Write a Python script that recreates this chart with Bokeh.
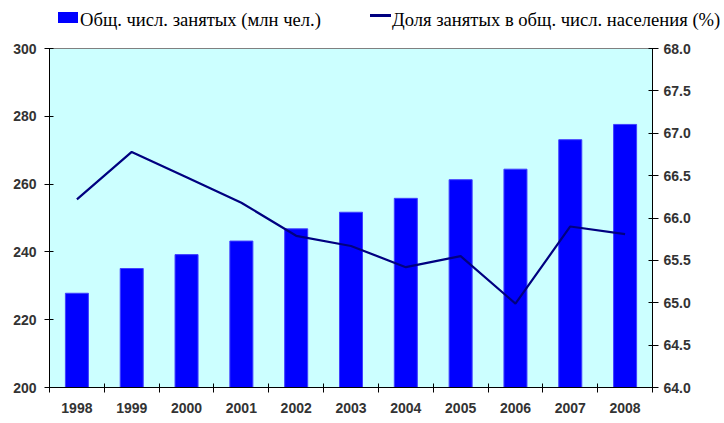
from bokeh.plotting import figure
from bokeh.layouts import column
from bokeh.models import (Range1d, LinearAxis, FixedTicker, Div,
                          PrintfTickFormatter, ColumnDataSource)
from bokeh.embed import file_html
from bokeh.resources import INLINE

years = ["1998", "1999", "2000", "2001", "2002", "2003", "2004", "2005", "2006", "2007", "2008"]
employed = [227.8, 235.1, 239.2, 243.2, 246.8, 251.7, 255.8, 261.3, 264.4, 273.1, 277.6]
share = [66.22, 66.78, 66.48, 66.18, 65.79, 65.67, 65.42, 65.55, 64.99, 65.90, 65.81]
left_ticks = [200, 220, 240, 260, 280, 300]
right_ticks = [64.0, 64.5, 65.0, 65.5, 66.0, 66.5, 67.0, 67.5, 68.0]
series_names = ["Общ. числ. занятых (млн чел.)", "Доля занятых в общ. числ. населения (%)"]

BAR_COLOR = "#0000FF"
LINE_COLOR = "#000080"

n = len(years)
xs = [i + 0.5 for i in range(n)]
src = ColumnDataSource(dict(x=xs, employed=employed, share=share, year=years))

# ---------- legend strip (HTML) ----------
legend_html = (
    '<div style="position:relative;width:716px;height:40px;'
    "font-family:'Liberation Serif';font-size:18.6px;line-height:21px;color:#000;\">"
    f'<span style="position:absolute;left:58px;top:12px;width:20px;height:11px;background:{BAR_COLOR};"></span>'
    f'<span style="position:absolute;left:80px;top:9px;white-space:nowrap;">{series_names[0]}</span>'
    f'<span style="position:absolute;left:370px;top:14px;width:21px;height:3px;background:{LINE_COLOR};"></span>'
    f'<span style="position:absolute;left:392px;top:9px;white-space:nowrap;">{series_names[1]}</span>'
    '</div>'
)
lg = Div(text=legend_html, width=716, height=40, margin=0)

# ---------- main chart ----------
p = figure(width=716, height=375, x_range=Range1d(0, n), y_range=Range1d(200, 300),
           output_backend="svg", toolbar_location=None,
           min_border_left=49, min_border_right=64, min_border_top=8, min_border_bottom=26)
p.extra_y_ranges = {"pct": Range1d(64, 68)}

p.background_fill_color = "#CCFFFF"
p.border_fill_color = "white"
p.outline_line_color = "#808080"
p.xgrid.visible = False
p.ygrid.visible = False

bars = p.vbar(x="x", top="employed", bottom=200, width=0.42, source=src,
              fill_color=BAR_COLOR, line_color="#4040FF", line_width=1)
line = p.line(x="x", y="share", source=src, y_range_name="pct",
              line_color=LINE_COLOR, line_width=2.2)

lab_font = "Liberation Sans"
lab_size = "14px"
lab_color = "#333333"

xa = p.xaxis[0]
xa.ticker = FixedTicker(ticks=xs, minor_ticks=list(range(n + 1)))
xa.major_label_overrides = {x: y for x, y in zip(xs, years)}
xa.major_tick_in = 0
xa.major_tick_out = 0
xa.minor_tick_in = 4
xa.minor_tick_out = 5
xa.minor_tick_line_color = "black"
xa.axis_line_color = "black"
xa.major_label_standoff = 10
xa.major_label_text_font = lab_font
xa.major_label_text_font_size = lab_size
xa.major_label_text_font_style = "bold"
xa.major_label_text_color = lab_color

ya = p.yaxis[0]
ya.ticker = FixedTicker(ticks=left_ticks)
ya.minor_tick_line_color = None
ya.major_tick_in = 4
ya.major_tick_out = 5
ya.major_tick_line_color = "black"
ya.axis_line_color = "black"
ya.major_label_standoff = 8
ya.major_label_text_font = lab_font
ya.major_label_text_font_size = lab_size
ya.major_label_text_font_style = "bold"
ya.major_label_text_color = lab_color

ra = LinearAxis(y_range_name="pct", ticker=FixedTicker(ticks=right_ticks),
                formatter=PrintfTickFormatter(format="%.1f"))
ra.minor_tick_line_color = None
ra.major_tick_in = 4
ra.major_tick_out = 6
ra.major_tick_line_color = "black"
ra.axis_line_color = "black"
ra.major_label_standoff = 5
ra.major_label_text_font = lab_font
ra.major_label_text_font_size = lab_size
ra.major_label_text_font_style = "bold"
ra.major_label_text_color = lab_color
p.add_layout(ra, "right")

layout = column(lg, p, spacing=0)
open("out.html", "w").write(file_html(layout, INLINE))
